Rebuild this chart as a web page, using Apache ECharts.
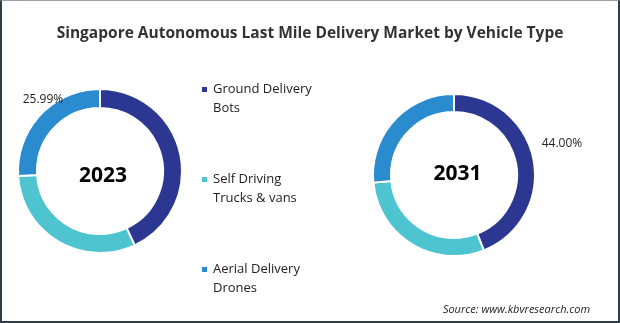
<!DOCTYPE html>
<html><head><meta charset="utf-8">
<script src="https://cdn.jsdelivr.net/npm/echarts@6/dist/echarts.min.js"></script>
<style>
html,body{margin:0;padding:0;background:#fff;}
#frame{position:absolute;left:0;top:0;width:620px;height:323px;box-sizing:border-box;border-left:2px solid #2f3d46;border-right:2px solid #2f3d46;border-bottom:2px solid #2f3d46;border-top:1px solid #9aa3a8;}
#chart{position:absolute;left:0;top:0;width:620px;height:323px;}
</style></head>
<body>
<div id="chart"></div>
<div id="frame"></div>
<script>
const categories = ['Ground Delivery Bots', 'Self Driving Trucks & vans', 'Aerial Delivery Drones'];
const legendLabels = ['Ground Delivery\nBots', 'Self Driving\nTrucks & vans', 'Aerial Delivery\nDrones'];
const years = ['2023', '2031'];
const values2023 = [43.05, 30.96, 25.99];
const values2031 = [44.00, 29.50, 26.50];
const shownLabel2023 = 'Aerial Delivery Drones';
const shownLabel2031 = 'Ground Delivery Bots';
const colors = ['#2c3791', '#4ec4d1', '#2a8bcf'];

const font = '"Open Sans", "Noto Sans", sans-serif';

function buildData(vals, shown) {
  return categories.map((c, i) => ({
    name: c,
    value: vals[i],
    label: { show: c === shown }
  }));
}

const chart = echarts.init(document.getElementById('chart'), null, { renderer: 'canvas' });
const option = {
  animation: false,
  color: colors,
  title: [
    { text: 'Singapore Autonomous Last Mile Delivery Market by Vehicle Type', left: 'center', top: 21,
      textStyle: { fontFamily: font, fontSize: 15.5, fontWeight: 'bold', color: '#333' } },
    { text: years[0], left: 103, top: 166, textAlign: 'center', padding: 0,
      textStyle: { fontFamily: font, fontSize: 21, fontWeight: 'bold', color: '#000' } },
    { text: years[1], left: 457.5, top: 164, textAlign: 'center', padding: 0,
      textStyle: { fontFamily: font, fontSize: 21, fontWeight: 'bold', color: '#000' } },
    { text: 'Source: www.kbvresearch.com', right: 25, top: 299,
      textStyle: { fontFamily: font, fontSize: 11, fontStyle: 'italic', fontWeight: 'normal', color: '#222' } }
  ],
  legend: {
    orient: 'vertical',
    left: 200,
    top: 61,
    padding: 0,
    itemGap: 33,
    itemWidth: 7,
    itemHeight: 7,
    icon: 'rect',
    data: categories,
    formatter: n => '\n' + legendLabels[categories.indexOf(n)],
    textStyle: { fontFamily: font, fontSize: 13, color: '#222', lineHeight: 19 }
  },
  series: [
    {
      type: 'pie', name: years[0],
      center: [100, 171], radius: [63, 82],
      startAngle: 90, clockwise: true,
      itemStyle: { borderColor: '#fff', borderWidth: 2 },
      label: { position: 'outside', formatter: p => p.value.toFixed(2) + '%', overflow: 'none',
        fontFamily: font, fontSize: 12, color: '#222' },
      labelLine: { show: false },
      labelLayout: { x: 43, y: 100, align: 'center', verticalAlign: 'middle' },
      data: buildData(values2023, shownLabel2023)
    },
    {
      type: 'pie', name: years[1],
      center: [454, 175], radius: [63, 81],
      startAngle: 90, clockwise: true,
      itemStyle: { borderColor: '#fff', borderWidth: 2 },
      label: { position: 'outside', formatter: p => p.value.toFixed(2) + '%', overflow: 'none',
        fontFamily: font, fontSize: 12, color: '#222' },
      labelLine: { show: false },
      labelLayout: { x: 562, y: 144, align: 'center', verticalAlign: 'middle' },
      data: buildData(values2031, shownLabel2031)
    }
  ]
};
chart.setOption(option);
</script>
</body></html>
